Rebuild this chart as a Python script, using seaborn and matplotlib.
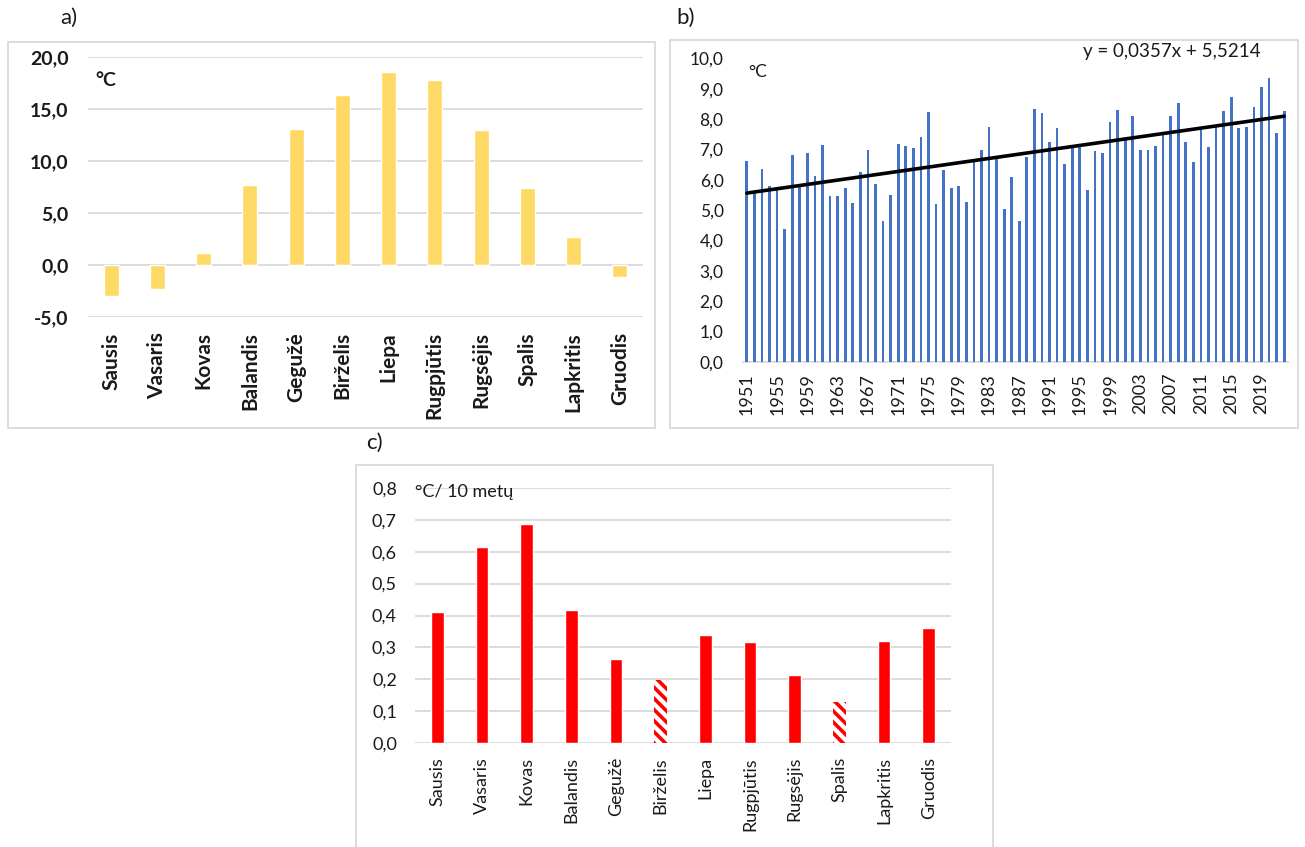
import matplotlib
matplotlib.use("Agg")
import matplotlib.pyplot as plt
import seaborn as sns
import numpy as np
import pandas as pd
from matplotlib.ticker import FuncFormatter, FixedLocator
from matplotlib.patches import Rectangle

sns.set_theme(style="white")
plt.rcParams['font.family'] = ['Lato', 'DejaVu Sans']
plt.rcParams['hatch.linewidth'] = 2.6

# ---------------- data ----------------
months = ["Sausis", "Vasaris", "Kovas", "Balandis", "Gegužė", "Birželis",
          "Liepa", "Rugpjūtis", "Rugsėjis", "Spalis", "Lapkritis", "Gruodis"]

monthly_mean_temp = [-3.0, -2.3, 1.2, 7.7, 13.1, 16.3, 18.6, 17.8, 13.0, 7.4, 2.7, -1.2]

years = list(range(1951, 2023))
annual_mean_temp = [
    6.62, 5.58, 6.36, 5.78, 5.75, 4.38, 6.81, 5.80, 6.89, 6.13,
    7.13, 5.45, 5.47, 5.74, 5.24, 6.25, 6.98, 5.85, 4.64, 5.50,
    7.17, 7.12, 7.05, 7.39, 8.23, 5.21, 6.33, 5.72, 5.80, 5.26,
    6.61, 6.98, 7.75, 6.73, 5.02, 6.10, 4.64, 6.76, 8.33, 8.21,
    7.24, 7.71, 6.52, 7.10, 7.10, 5.67, 6.95, 6.89, 7.91, 8.31,
    7.35, 8.11, 6.98, 6.98, 7.11, 7.50, 8.10, 8.53, 7.24, 6.57,
    7.70, 7.09, 7.75, 8.26, 8.71, 7.69, 7.75, 8.40, 9.06, 9.35,
    7.54, 8.27]
trend_slope = 0.0357
trend_intercept = 5.5214
trend_label = "y = 0,0357x + 5,5214"

monthly_trend = [0.41, 0.615, 0.686, 0.418, 0.265, 0.199, 0.340, 0.316, 0.212, 0.128, 0.320, 0.362]
insignificant = ["Birželis", "Spalis"]

# ---------------- figure ----------------
W, H = 1305, 847
fig = plt.figure(figsize=(W / 100, H / 100), dpi=100)
fig.patch.set_facecolor("white")


def rect(x0, x1, y0, y1):
    return [x0 / W, 1 - y1 / H, (x1 - x0) / W, (y1 - y0) / H]


def frame(x0, x1, y0, y1):
    fig.patches.append(Rectangle((x0 / W, 1 - y1 / H), (x1 - x0) / W, (y1 - y0) / H,
                                 transform=fig.transFigure, fill=False,
                                 edgecolor="#D9D9D9", linewidth=1.3, zorder=0))


comma1 = FuncFormatter(lambda v, p: f"{v:.1f}".replace(".", ","))
grid_c = "#D9D9D9"
txt_c = "#1a1a1a"

# ---------------- panel a ----------------
frame(8, 655, 42, 428)
axa = fig.add_axes(rect(88, 643, 57, 317))
dfa = pd.DataFrame({"month": months, "t": monthly_mean_temp})
sns.barplot(data=dfa, x="month", y="t", color="#FFD966", saturation=1,
            width=0.32, ax=axa, zorder=3)
axa.set_ylim(-5, 20)
axa.set_xlim(-0.5, 11.5)
axa.yaxis.set_major_locator(FixedLocator([-5, 0, 5, 10, 15, 20]))
axa.yaxis.set_major_formatter(comma1)
axa.grid(axis="y", color=grid_c, linewidth=1.3, zorder=0)
for s in axa.spines.values():
    s.set_visible(False)
axa.set_xlabel("")
axa.set_ylabel("")
axa.tick_params(axis="x", length=0, pad=11, labelsize=15, rotation=90)
axa.tick_params(axis="y", length=0, pad=14, labelsize=14)
for lab in axa.get_xticklabels() + axa.get_yticklabels():
    lab.set_fontweight("bold")
    lab.set_color(txt_c)
axa.text(0.013, 0.91, "°C", transform=axa.transAxes, fontsize=14,
         fontweight="bold", color=txt_c, va="center")
fig.text(60 / W, 1 - 18 / H, "a)", fontsize=16, va="center", color=txt_c)

# ---------------- panel b ----------------
frame(670, 1298, 40, 428)
axb = fig.add_axes(rect(743, 1288, 58.3, 361.7))
dfb = pd.DataFrame({"year": [str(y) for y in years], "t": annual_mean_temp})
sns.barplot(data=dfb, x="year", y="t", color="#4472C4", saturation=1,
            width=0.36, ax=axb, zorder=3, linewidth=0)
xs = np.arange(len(years))
axb.plot(xs, trend_slope * (xs + 1) + trend_intercept, color="black",
         linewidth=2.6, zorder=5)
axb.set_ylim(0, 10)
axb.set_xlim(-0.5, len(years) - 0.5)
axb.yaxis.set_major_locator(FixedLocator(np.arange(0, 11, 1)))
axb.yaxis.set_major_formatter(comma1)
axb.set_xticks(xs[::4])
axb.set_xticklabels([str(y) for y in years[::4]])
for k, s in axb.spines.items():
    s.set_visible(k == "bottom")
axb.spines["bottom"].set_color(grid_c)
axb.spines["bottom"].set_linewidth(1.3)
axb.set_xlabel("")
axb.set_ylabel("")
axb.tick_params(axis="x", length=0, pad=8, labelsize=13, rotation=90)
axb.tick_params(axis="y", length=0, pad=14, labelsize=12.5)
for lab in axb.get_xticklabels() + axb.get_yticklabels():
    lab.set_color(txt_c)
axb.text(0.01, 0.955, "°C", transform=axb.transAxes, fontsize=12.5,
         color=txt_c, va="center")
fig.text(1172 / W, 1 - 52 / H, trend_label, fontsize=13.5, ha="center",
         va="center", color=txt_c)
fig.text(676 / W, 1 - 18 / H, "b)", fontsize=16, va="center", color=txt_c)

# ---------------- panel c ----------------
frame(356, 993, 465, 860)
axc = fig.add_axes(rect(415, 951, 488, 743))
dfc = pd.DataFrame({"month": months, "r": monthly_trend})
sns.barplot(data=dfc, x="month", y="r", color="#FF0000", saturation=1,
            width=0.29, ax=axc, zorder=3)
for patch, m in zip(axc.patches, months):
    if m in insignificant:
        patch.set_facecolor("white")
        patch.set_edgecolor("#FF0000")
        patch.set_hatch("\\\\\\")
        patch.set_linewidth(0)
axc.set_ylim(0, 0.8)
axc.set_xlim(-0.5, 11.5)
axc.yaxis.set_major_locator(FixedLocator(np.arange(0, 0.81, 0.1)))
axc.yaxis.set_major_formatter(comma1)
axc.grid(axis="y", color=grid_c, linewidth=1.3, zorder=0)
for s in axc.spines.values():
    s.set_visible(False)
axc.set_xlabel("")
axc.set_ylabel("")
axc.tick_params(axis="x", length=0, pad=10, labelsize=13, rotation=90)
axc.tick_params(axis="y", length=0, pad=13, labelsize=13)
for lab in axc.get_xticklabels() + axc.get_yticklabels():
    lab.set_color(txt_c)
axc.text(0.0, 0.985, "°C/ 10 metų", transform=axc.transAxes, fontsize=13,
         va="center", color=txt_c, zorder=6)
fig.text(366 / W, 1 - 443 / H, "c)", fontsize=16, va="center", color=txt_c)

fig.savefig("out.png", dpi=100, facecolor="white")
